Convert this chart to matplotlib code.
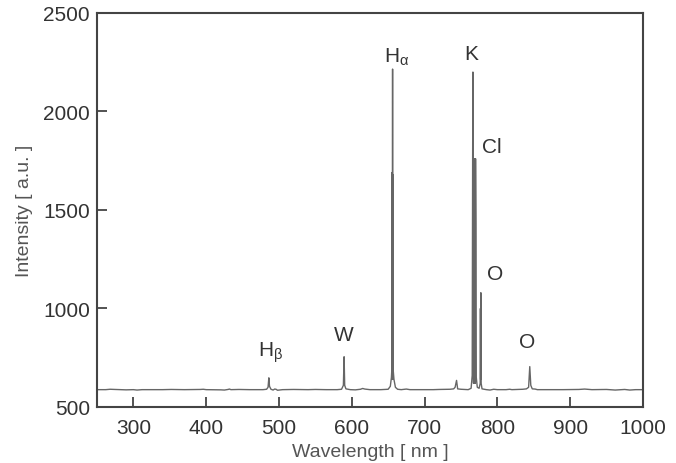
import matplotlib
matplotlib.use("Agg")
import matplotlib.pyplot as plt

# Spectrum samples (wavelength nm, intensity a.u.)
wavelength = [250, 262, 268, 275, 290, 300, 305, 312, 340, 352, 370, 392, 396, 400,
              420, 425, 430, 432, 434, 445, 460, 478, 483, 485, 486.1, 487, 489, 492,
              494, 496, 498, 505, 520, 540, 550, 565, 580, 586, 588.5, 589.5, 590.3,
              592, 598, 605, 612, 615, 618, 625, 640, 650, 653, 654.5, 655.2, 655.5,
              655.8, 656.0, 656.1, 656.3, 656.5, 656.9, 658, 660, 663, 668, 675, 680, 700,
              712, 720, 735, 740, 742, 744, 745.5, 750, 760, 764, 765.5, 766.1, 766.5,
              766.9, 767.3, 767.7, 768.1, 768.5, 768.9, 769.3, 769.7, 770.1, 770.6,
              771.1, 772.5, 775, 776.5, 776.8, 777.1, 777.4, 777.8, 779, 785, 790, 795,
              800, 812, 817, 820, 835, 840, 843, 844.6, 846, 848, 852, 855, 890, 912,
              920, 930, 950, 962, 975, 982, 990, 1000]
intensity = [588, 588, 590, 589, 587, 588, 586, 588, 588, 589, 588, 589, 590, 588,
             587, 586, 589, 591, 588, 589, 588, 588, 590, 600, 648, 605, 590, 586,
             591, 590, 585, 588, 589, 588, 589, 588, 588, 590, 610, 755, 610,
             592, 588, 587, 590, 594, 591, 588, 588, 590, 605, 650, 700, 1690,
             640, 1690, 2215, 640, 1680, 690, 640, 600, 590, 588, 591, 588, 588,
             588, 589, 590, 592, 600, 635, 592, 590, 588, 595, 660, 1760, 2200,
             1760, 620, 1760, 620, 1760, 620, 1760, 620, 1760, 1430,
             650, 600, 595, 620, 1000, 640, 1080, 620, 592, 588, 586, 590,
             588, 588, 590, 588, 590, 592, 600, 705, 610, 592, 591, 588, 588, 589,
             591, 588, 589, 586, 589, 586, 588, 588]

# Peak labels
label_texts = [r"H$_{\beta}$", "W", r"H$_{\alpha}$", "K", "Cl", "O", "O"]
label_x = [489, 589.5, 662, 764, 792, 797.5, 841.5]
label_y = [780, 870, 2280, 2292, 1820, 1175, 830]

x_ticks = [300, 400, 500, 600, 700, 800, 900, 1000]
y_ticks = [500, 1000, 1500, 2000, 2500]

plt.rcParams['font.family'] = ['Liberation Sans', 'DejaVu Sans']
plt.rcParams['mathtext.fontset'] = 'custom'
plt.rcParams['mathtext.rm'] = 'Liberation Sans'
plt.rcParams['mathtext.it'] = 'Liberation Sans'
plt.rcParams['mathtext.bf'] = 'Liberation Sans:bold'

fig = plt.figure(figsize=(6.76, 4.64), dpi=100)
ax = fig.add_axes([0.1435, 0.1207, 0.8075, 0.8493])

ax.plot(wavelength, intensity, color='#666666', lw=1.0)

for t, x, y in zip(label_texts, label_x, label_y):
    ax.text(x, y, t, ha='center', va='center', fontsize=15, color='#333333')

ax.set_xlim(250, 1000)
ax.set_ylim(500, 2500)
ax.set_xticks(x_ticks)
ax.set_yticks(y_ticks)
ax.tick_params(direction='in', length=7, width=1.3, color='#444444',
               labelsize=15, labelcolor='#333333')
ax.tick_params(axis='x', pad=8)
ax.tick_params(axis='y', pad=5)
for s in ax.spines.values():
    s.set_linewidth(1.5)
    s.set_color('#444444')

ax.set_xlabel('Wavelength [ nm ]', fontsize=14, color='#555555', labelpad=4)
ax.set_ylabel('Intensity [ a.u. ]', fontsize=14, color='#555555', labelpad=7)

fig.savefig('out.png', dpi=100)
